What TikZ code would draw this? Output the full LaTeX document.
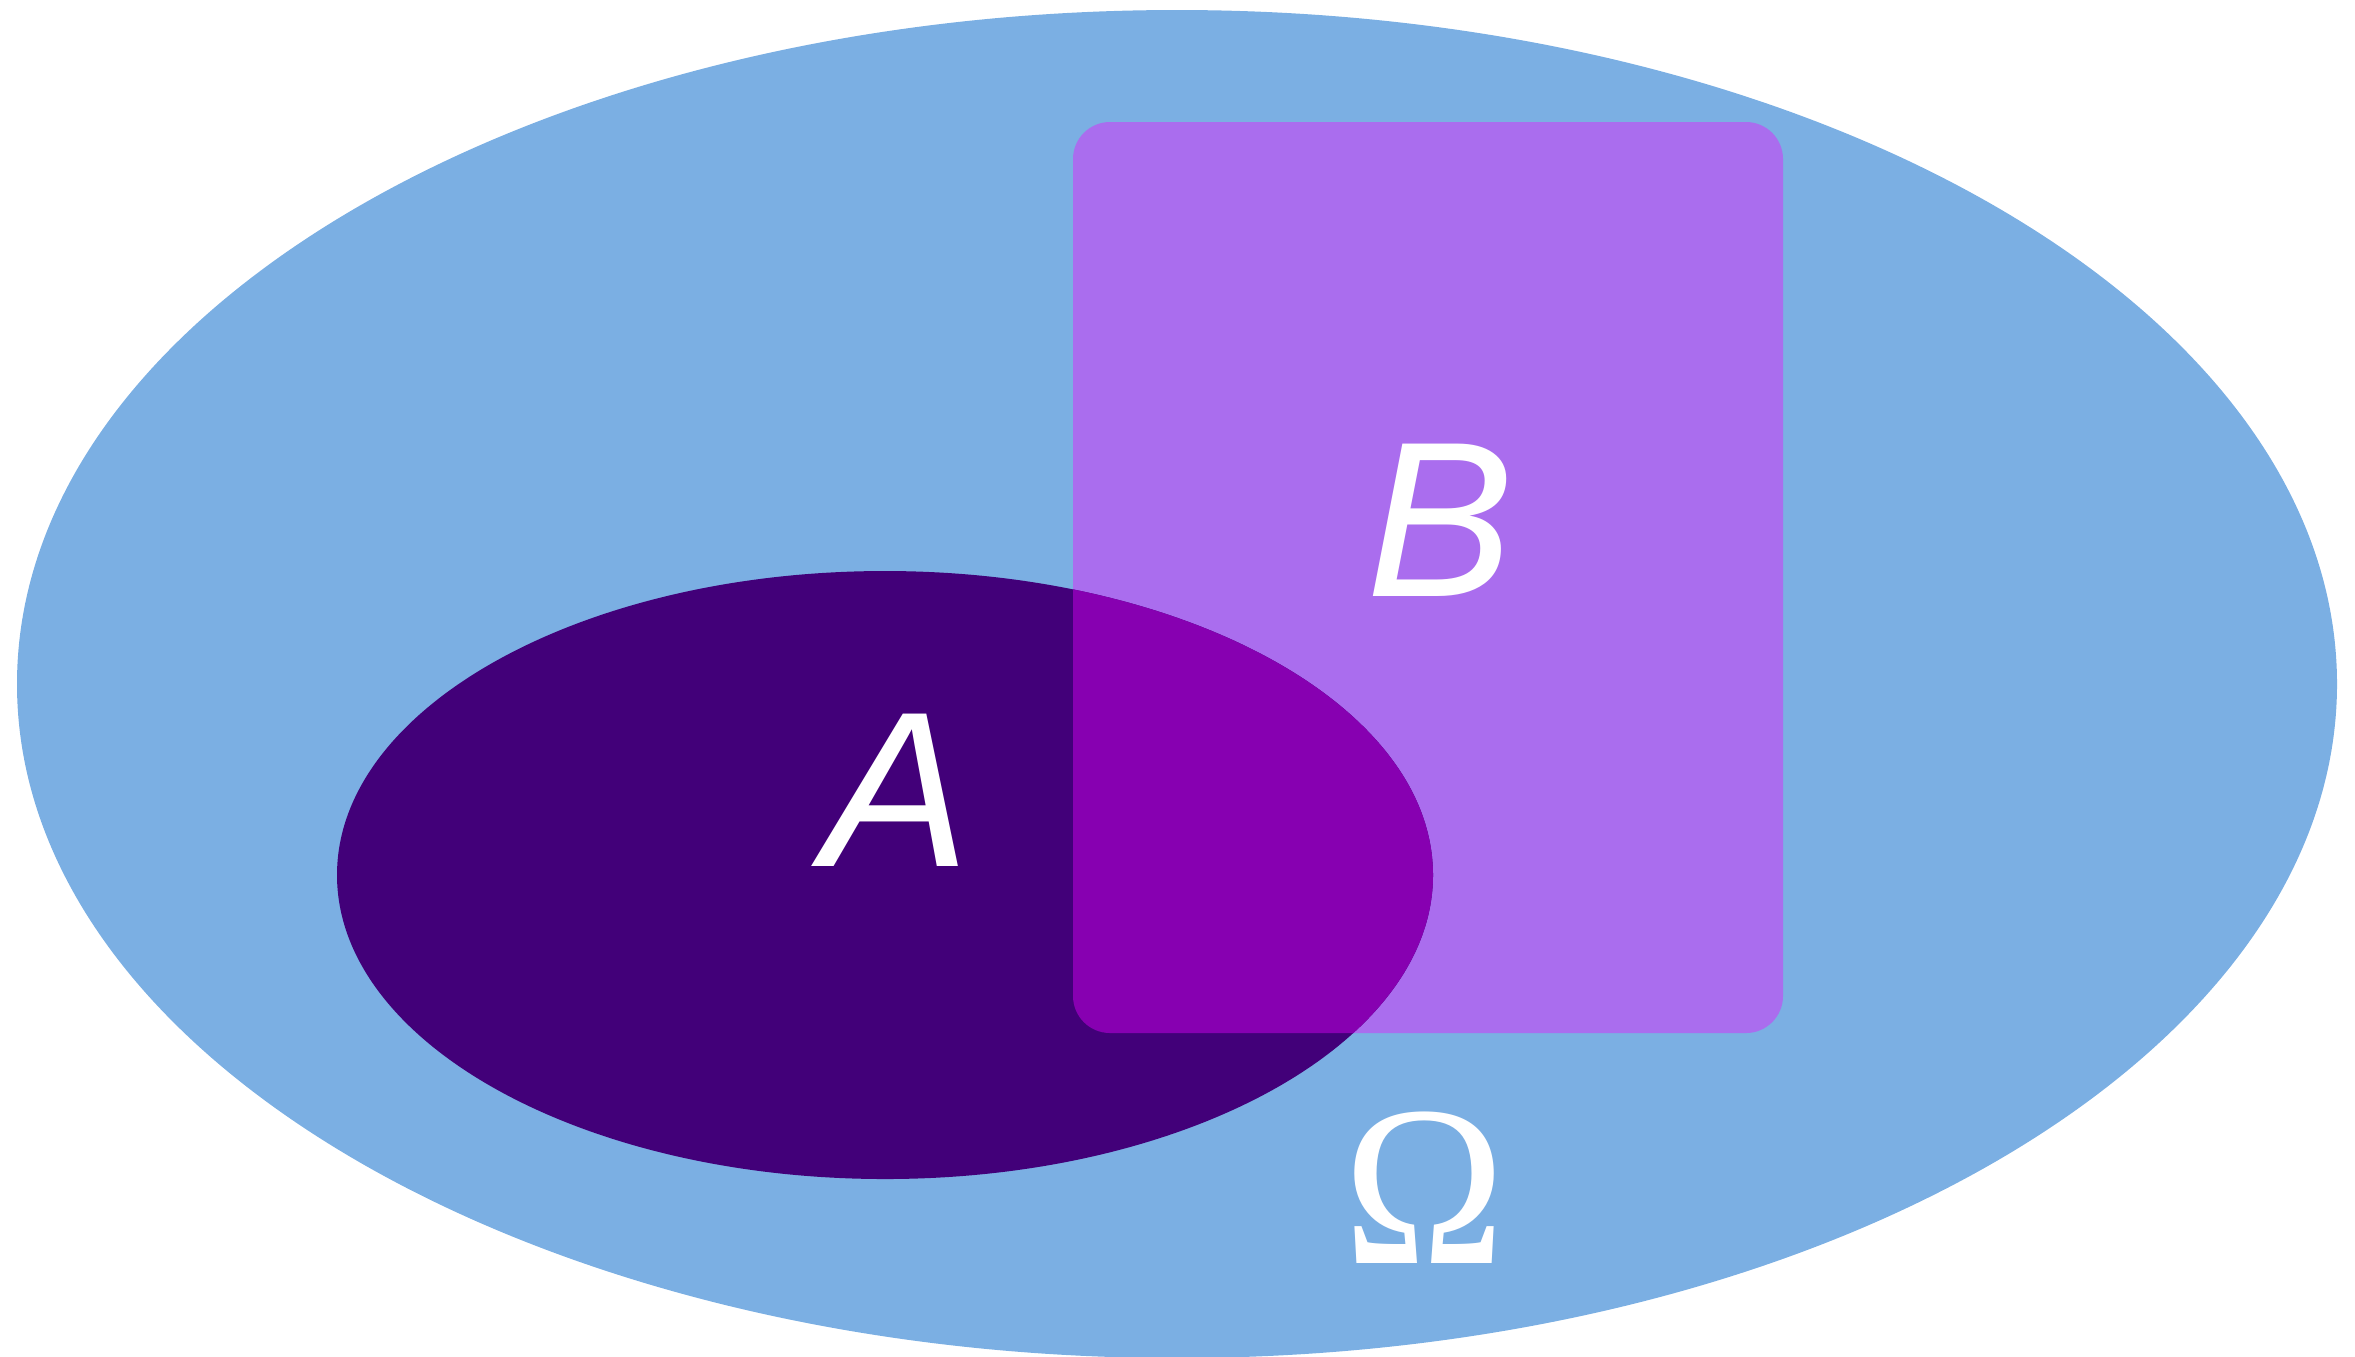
\documentclass[tikz,border=0pt]{standalone}
\usepackage{fontspec}
\newfontfamily\lsans{Liberation Sans}
\newfontfamily\lserif{Liberation Serif}
\definecolor{omegablue}{HTML}{7BAFE3}
\definecolor{bpurple}{HTML}{AA6DEE}
\definecolor{adark}{HTML}{420079}
\definecolor{amag}{HTML}{8700B1}
\tikzset{
  lbl/.style={text=white, inner sep=0pt, anchor=base},
  sanslbl/.style={lbl, font=\lsans\itshape\fontsize{63}{72}\selectfont},
  seriflbl/.style={lbl, font=\lserif\fontsize{62}{72}\selectfont},
  rectB/.style={rounded corners=0.37cm}
}
\begin{document}
\begin{tikzpicture}[x=0.01cm,y=-0.01cm]
\useasboundingbox (0,0) rectangle (2355,1356);
\clip (0,0) rectangle (2355,1356);
\fill[omegablue] (1177,684) ellipse [x radius=1160, y radius=674];
\fill[bpurple, rectB] (1073,122) rectangle (1783,1033);
\fill[adark] (885,875) ellipse [x radius=548, y radius=304];
\begin{scope}
  \clip[rectB] (1073,122) rectangle (1783,1033);
  \fill[amag] (885,875) ellipse [x radius=548, y radius=304];
\end{scope}
\node[sanslbl] (A) at (896,866) {A};
\node[sanslbl] (B) at (1440,596) {B};
\node[seriflbl, yscale=1.05] (Om) at (1424,1263) {Ω};
\end{tikzpicture}
\end{document}
